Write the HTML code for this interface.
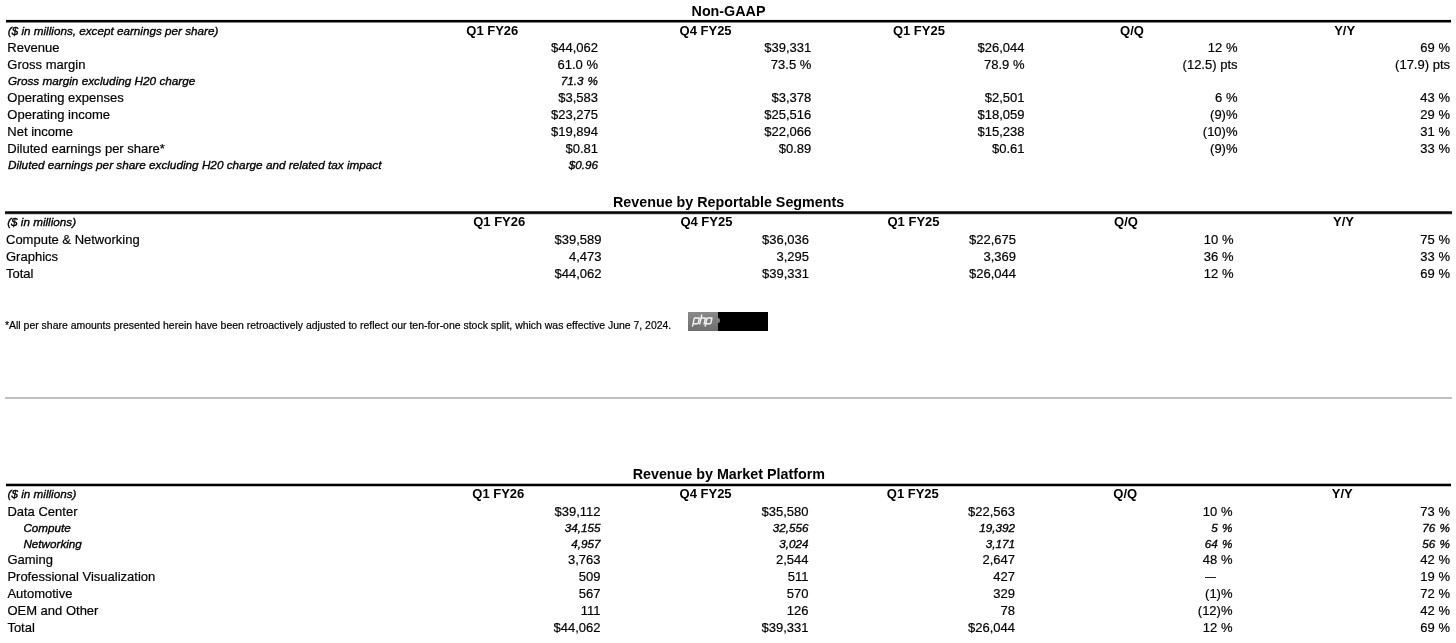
<!DOCTYPE html>
<html><head><meta charset="utf-8"><title>NVIDIA Non-GAAP</title><style>
html,body{margin:0;padding:0;background:#fff;}
body{width:1456px;height:643px;position:relative;overflow:hidden;font-family:"Liberation Sans",sans-serif;color:#000;}
#pg{position:absolute;left:0;top:0;width:1456px;height:643px;will-change:transform;}
.t{position:absolute;line-height:20px;white-space:nowrap;-webkit-text-stroke:0.2px #000;}
.rule{position:absolute;height:1px;}
.sep{position:absolute;left:5px;top:397px;width:1447px;height:2px;background:#c0c0c0;}
.php{position:absolute;left:688px;top:312px;height:19px;width:80px;}
.phpg{position:absolute;left:0;top:0;width:30px;height:19px;background:linear-gradient(#8a8a8a,#6e6e6e);}
.phpg svg{position:absolute;left:0;top:0;}
.dash{position:absolute;left:1205px;top:577px;width:11px;height:1px;background:#222;}
.t b,.bold{-webkit-text-stroke:0;}
.phpb{position:absolute;left:30px;top:0;width:50px;height:18.6px;background:#000;}
.phpd{position:absolute;left:28.2px;top:6.4px;width:3.4px;height:4.6px;border-radius:50%;background:#828282;}
</style></head>
<body>
<div id="pg">
<div class="t" style="top:1px;font-size:14.3px;font-weight:bold;-webkit-text-stroke:0;left:528.5px;width:400px;text-align:center;">Non-GAAP</div>
<div class="rule" style="top:19px;left:6px;width:1445px;background:#e8e8e8;box-shadow:0 1px 0 #000,0 2px 0 #000,0 3px 0 #808080"></div>
<div class="t" style="top:21px;font-size:11.7px;font-style:italic;-webkit-text-stroke:0.35px #000;left:7.8px;">($ in millions, except earnings per share)</div>
<div class="t" style="top:21px;font-size:13px;font-weight:bold;-webkit-text-stroke:0;left:292.3px;width:400px;text-align:center;">Q1 FY26</div>
<div class="t" style="top:21px;font-size:13px;font-weight:bold;-webkit-text-stroke:0;left:505.6px;width:400px;text-align:center;">Q4 FY25</div>
<div class="t" style="top:21px;font-size:13px;font-weight:bold;-webkit-text-stroke:0;left:718.9px;width:400px;text-align:center;">Q1 FY25</div>
<div class="t" style="top:21px;font-size:13px;font-weight:bold;-webkit-text-stroke:0;left:932px;width:400px;text-align:center;">Q/Q</div>
<div class="t" style="top:21px;font-size:13px;font-weight:bold;-webkit-text-stroke:0;left:1144.7px;width:400px;text-align:center;">Y/Y</div>
<div class="t" style="top:38px;font-size:13px;left:7.35px;">Revenue</div>
<div class="t" style="top:38px;font-size:13px;right:858px;text-align:right;">$44,062</div>
<div class="t" style="top:38px;font-size:13px;right:644.7px;text-align:right;">$39,331</div>
<div class="t" style="top:38px;font-size:13px;right:431.5px;text-align:right;">$26,044</div>
<div class="t" style="top:38px;font-size:13px;right:218.5px;text-align:right;">12 %</div>
<div class="t" style="top:38px;font-size:13px;right:6px;text-align:right;">69 %</div>
<div class="t" style="top:55px;font-size:13px;left:7.35px;">Gross margin</div>
<div class="t" style="top:55px;font-size:13px;right:858px;text-align:right;">61.0 %</div>
<div class="t" style="top:55px;font-size:13px;right:644.7px;text-align:right;">73.5 %</div>
<div class="t" style="top:55px;font-size:13px;right:431.5px;text-align:right;">78.9 %</div>
<div class="t" style="top:55px;font-size:13px;right:218.5px;text-align:right;">(12.5) pts</div>
<div class="t" style="top:55px;font-size:13px;right:6px;text-align:right;">(17.9) pts</div>
<div class="t" style="top:71px;font-size:11.76px;font-style:italic;-webkit-text-stroke:0.35px #000;left:7.9px;">Gross margin excluding H20 charge</div>
<div class="t" style="top:71px;font-size:11.7px;font-style:italic;-webkit-text-stroke:0.35px #000;right:858px;text-align:right;word-spacing:0.8px;">71.3 %</div>
<div class="t" style="top:88px;font-size:13px;left:7.35px;">Operating expenses</div>
<div class="t" style="top:88px;font-size:13px;right:858px;text-align:right;">$3,583</div>
<div class="t" style="top:88px;font-size:13px;right:644.7px;text-align:right;">$3,378</div>
<div class="t" style="top:88px;font-size:13px;right:431.5px;text-align:right;">$2,501</div>
<div class="t" style="top:88px;font-size:13px;right:218.5px;text-align:right;">6 %</div>
<div class="t" style="top:88px;font-size:13px;right:6px;text-align:right;">43 %</div>
<div class="t" style="top:105px;font-size:13px;left:7.35px;">Operating income</div>
<div class="t" style="top:105px;font-size:13px;right:858px;text-align:right;">$23,275</div>
<div class="t" style="top:105px;font-size:13px;right:644.7px;text-align:right;">$25,516</div>
<div class="t" style="top:105px;font-size:13px;right:431.5px;text-align:right;">$18,059</div>
<div class="t" style="top:105px;font-size:13px;right:218.5px;text-align:right;">(9)%</div>
<div class="t" style="top:105px;font-size:13px;right:6px;text-align:right;">29 %</div>
<div class="t" style="top:122px;font-size:13px;left:7.35px;">Net income</div>
<div class="t" style="top:122px;font-size:13px;right:858px;text-align:right;">$19,894</div>
<div class="t" style="top:122px;font-size:13px;right:644.7px;text-align:right;">$22,066</div>
<div class="t" style="top:122px;font-size:13px;right:431.5px;text-align:right;">$15,238</div>
<div class="t" style="top:122px;font-size:13px;right:218.5px;text-align:right;">(10)%</div>
<div class="t" style="top:122px;font-size:13px;right:6px;text-align:right;">31 %</div>
<div class="t" style="top:139px;font-size:13px;left:7.35px;">Diluted earnings per share*</div>
<div class="t" style="top:139px;font-size:13px;right:858px;text-align:right;">$0.81</div>
<div class="t" style="top:139px;font-size:13px;right:644.7px;text-align:right;">$0.89</div>
<div class="t" style="top:139px;font-size:13px;right:431.5px;text-align:right;">$0.61</div>
<div class="t" style="top:139px;font-size:13px;right:218.5px;text-align:right;">(9)%</div>
<div class="t" style="top:139px;font-size:13px;right:6px;text-align:right;">33 %</div>
<div class="t" style="top:155px;font-size:11.76px;font-style:italic;-webkit-text-stroke:0.35px #000;left:7.9px;">Diluted earnings per share excluding H20 charge and related tax impact</div>
<div class="t" style="top:155px;font-size:11.7px;font-style:italic;-webkit-text-stroke:0.35px #000;right:858px;text-align:right;word-spacing:0.8px;">$0.96</div>
<div class="t" style="top:192px;font-size:14.3px;font-weight:bold;-webkit-text-stroke:0;left:528.6px;width:400px;text-align:center;">Revenue by Reportable Segments</div>
<div class="rule" style="top:211px;left:5px;width:1447px;background:#4a4a4a;box-shadow:0 1px 0 #000,0 2px 0 #262626,0 3px 0 #cfcfcf"></div>
<div class="t" style="top:212px;font-size:11.7px;font-style:italic;-webkit-text-stroke:0.35px #000;left:7.2px;">($ in millions)</div>
<div class="t" style="top:212px;font-size:13px;font-weight:bold;-webkit-text-stroke:0;left:299.2px;width:400px;text-align:center;">Q1 FY26</div>
<div class="t" style="top:212px;font-size:13px;font-weight:bold;-webkit-text-stroke:0;left:506.4px;width:400px;text-align:center;">Q4 FY25</div>
<div class="t" style="top:212px;font-size:13px;font-weight:bold;-webkit-text-stroke:0;left:713.5px;width:400px;text-align:center;">Q1 FY25</div>
<div class="t" style="top:212px;font-size:13px;font-weight:bold;-webkit-text-stroke:0;left:926px;width:400px;text-align:center;">Q/Q</div>
<div class="t" style="top:212px;font-size:13px;font-weight:bold;-webkit-text-stroke:0;left:1143.5px;width:400px;text-align:center;">Y/Y</div>
<div class="t" style="top:230px;font-size:13px;left:6.0px;">Compute &amp; Networking</div>
<div class="t" style="top:230px;font-size:13px;right:854.5px;text-align:right;">$39,589</div>
<div class="t" style="top:230px;font-size:13px;right:647px;text-align:right;">$36,036</div>
<div class="t" style="top:230px;font-size:13px;right:440px;text-align:right;">$22,675</div>
<div class="t" style="top:230px;font-size:13px;right:222.5px;text-align:right;">10 %</div>
<div class="t" style="top:230px;font-size:13px;right:6px;text-align:right;">75 %</div>
<div class="t" style="top:247px;font-size:13px;left:6.0px;">Graphics</div>
<div class="t" style="top:247px;font-size:13px;right:854.5px;text-align:right;">4,473</div>
<div class="t" style="top:247px;font-size:13px;right:647px;text-align:right;">3,295</div>
<div class="t" style="top:247px;font-size:13px;right:440px;text-align:right;">3,369</div>
<div class="t" style="top:247px;font-size:13px;right:222.5px;text-align:right;">36 %</div>
<div class="t" style="top:247px;font-size:13px;right:6px;text-align:right;">33 %</div>
<div class="t" style="top:264px;font-size:13px;left:6.0px;">Total</div>
<div class="t" style="top:264px;font-size:13px;right:854.5px;text-align:right;">$44,062</div>
<div class="t" style="top:264px;font-size:13px;right:647px;text-align:right;">$39,331</div>
<div class="t" style="top:264px;font-size:13px;right:440px;text-align:right;">$26,044</div>
<div class="t" style="top:264px;font-size:13px;right:222.5px;text-align:right;">12 %</div>
<div class="t" style="top:264px;font-size:13px;right:6px;text-align:right;">69 %</div>
<div class="t" style="top:316px;font-size:10.46px;left:5.0px;">*All per share amounts presented herein have been retroactively adjusted to reflect our ten-for-one stock split, which was effective June 7, 2024.</div>
<div class="php"><div class="phpg"><svg width="30" height="19" viewBox="0 0 30 19"><g fill="none" stroke="#f4f4f4" stroke-width="1.45" stroke-linejoin="round" stroke-linecap="round" transform="skewX(-12) translate(2.3 0)"><path d="M5.3 14.1 L5.3 6.5 Q5.3 5.9 5.9 5.9 L9.6 5.9 Q10.3 5.9 10.3 6.6 L10.3 11.1 Q10.3 11.8 9.6 11.8 L5.5 11.8"/><path d="M12.0 11.9 L12.0 2.9 M12.0 6.8 Q12.6 5.9 13.6 5.9 L15.7 5.9 Q16.4 5.9 16.4 6.6 L16.4 11.9"/><path d="M18.0 14.1 L18.0 6.5 Q18.0 5.9 18.6 5.9 L22.3 5.9 Q23.0 5.9 23.0 6.6 L23.0 11.1 Q23.0 11.8 22.3 11.8 L18.2 11.8"/></g></svg></div><div class="phpb"></div><div class="phpd"></div></div>
<div class="sep"></div>
<div class="t" style="top:464px;font-size:14.3px;font-weight:bold;-webkit-text-stroke:0;left:528.8px;width:400px;text-align:center;">Revenue by Market Platform</div>
<div class="rule" style="top:483px;left:6px;width:1445px;background:#b0b0b0;box-shadow:0 1px 0 #000,0 2px 0 #000,0 3px 0 #c0c0c0"></div>
<div class="t" style="top:484px;font-size:11.7px;font-style:italic;-webkit-text-stroke:0.35px #000;left:7.6px;">($ in millions)</div>
<div class="t" style="top:484px;font-size:13px;font-weight:bold;-webkit-text-stroke:0;left:298.3px;width:400px;text-align:center;">Q1 FY26</div>
<div class="t" style="top:484px;font-size:13px;font-weight:bold;-webkit-text-stroke:0;left:505.6px;width:400px;text-align:center;">Q4 FY25</div>
<div class="t" style="top:484px;font-size:13px;font-weight:bold;-webkit-text-stroke:0;left:712.8px;width:400px;text-align:center;">Q1 FY25</div>
<div class="t" style="top:484px;font-size:13px;font-weight:bold;-webkit-text-stroke:0;left:925.2px;width:400px;text-align:center;">Q/Q</div>
<div class="t" style="top:484px;font-size:13px;font-weight:bold;-webkit-text-stroke:0;left:1142.3px;width:400px;text-align:center;">Y/Y</div>
<div class="t" style="top:502px;font-size:13px;left:7.4px;">Data Center</div>
<div class="t" style="top:502px;font-size:13px;right:855.5px;text-align:right;">$39,112</div>
<div class="t" style="top:502px;font-size:13px;right:647.5px;text-align:right;">$35,580</div>
<div class="t" style="top:502px;font-size:13px;right:441px;text-align:right;">$22,563</div>
<div class="t" style="top:502px;font-size:13px;right:223.5px;text-align:right;">10 %</div>
<div class="t" style="top:502px;font-size:13px;right:6px;text-align:right;">73 %</div>
<div class="t" style="top:518px;font-size:11.7px;font-style:italic;-webkit-text-stroke:0.35px #000;left:23.4px;">Compute</div>
<div class="t" style="top:518px;font-size:11.7px;font-style:italic;-webkit-text-stroke:0.35px #000;right:855.5px;text-align:right;">34,155</div>
<div class="t" style="top:518px;font-size:11.7px;font-style:italic;-webkit-text-stroke:0.35px #000;right:647.5px;text-align:right;">32,556</div>
<div class="t" style="top:518px;font-size:11.7px;font-style:italic;-webkit-text-stroke:0.35px #000;right:441px;text-align:right;">19,392</div>
<div class="t" style="top:518px;font-size:11.7px;font-style:italic;-webkit-text-stroke:0.35px #000;right:223.5px;text-align:right;word-spacing:1px;">5 %</div>
<div class="t" style="top:518px;font-size:11.7px;font-style:italic;-webkit-text-stroke:0.35px #000;right:6px;text-align:right;word-spacing:1px;">76 %</div>
<div class="t" style="top:534px;font-size:11.7px;font-style:italic;-webkit-text-stroke:0.35px #000;left:23.4px;">Networking</div>
<div class="t" style="top:534px;font-size:11.7px;font-style:italic;-webkit-text-stroke:0.35px #000;right:855.5px;text-align:right;">4,957</div>
<div class="t" style="top:534px;font-size:11.7px;font-style:italic;-webkit-text-stroke:0.35px #000;right:647.5px;text-align:right;">3,024</div>
<div class="t" style="top:534px;font-size:11.7px;font-style:italic;-webkit-text-stroke:0.35px #000;right:441px;text-align:right;">3,171</div>
<div class="t" style="top:534px;font-size:11.7px;font-style:italic;-webkit-text-stroke:0.35px #000;right:223.5px;text-align:right;word-spacing:1px;">64 %</div>
<div class="t" style="top:534px;font-size:11.7px;font-style:italic;-webkit-text-stroke:0.35px #000;right:6px;text-align:right;word-spacing:1px;">56 %</div>
<div class="t" style="top:550px;font-size:13px;left:7.4px;">Gaming</div>
<div class="t" style="top:550px;font-size:13px;right:855.5px;text-align:right;">3,763</div>
<div class="t" style="top:550px;font-size:13px;right:647.5px;text-align:right;">2,544</div>
<div class="t" style="top:550px;font-size:13px;right:441px;text-align:right;">2,647</div>
<div class="t" style="top:550px;font-size:13px;right:223.5px;text-align:right;">48 %</div>
<div class="t" style="top:550px;font-size:13px;right:6px;text-align:right;">42 %</div>
<div class="t" style="top:567px;font-size:13px;left:7.4px;">Professional Visualization</div>
<div class="t" style="top:567px;font-size:13px;right:855.5px;text-align:right;">509</div>
<div class="t" style="top:567px;font-size:13px;right:647.5px;text-align:right;">511</div>
<div class="t" style="top:567px;font-size:13px;right:441px;text-align:right;">427</div>
<div class="dash"></div>
<div class="t" style="top:567px;font-size:13px;right:6px;text-align:right;">19 %</div>
<div class="t" style="top:584px;font-size:13px;left:7.4px;">Automotive</div>
<div class="t" style="top:584px;font-size:13px;right:855.5px;text-align:right;">567</div>
<div class="t" style="top:584px;font-size:13px;right:647.5px;text-align:right;">570</div>
<div class="t" style="top:584px;font-size:13px;right:441px;text-align:right;">329</div>
<div class="t" style="top:584px;font-size:13px;right:223.5px;text-align:right;">(1)%</div>
<div class="t" style="top:584px;font-size:13px;right:6px;text-align:right;">72 %</div>
<div class="t" style="top:601px;font-size:13px;left:7.4px;">OEM and Other</div>
<div class="t" style="top:601px;font-size:13px;right:855.5px;text-align:right;">111</div>
<div class="t" style="top:601px;font-size:13px;right:647.5px;text-align:right;">126</div>
<div class="t" style="top:601px;font-size:13px;right:441px;text-align:right;">78</div>
<div class="t" style="top:601px;font-size:13px;right:223.5px;text-align:right;">(12)%</div>
<div class="t" style="top:601px;font-size:13px;right:6px;text-align:right;">42 %</div>
<div class="t" style="top:618px;font-size:13px;left:7.4px;">Total</div>
<div class="t" style="top:618px;font-size:13px;right:855.5px;text-align:right;">$44,062</div>
<div class="t" style="top:618px;font-size:13px;right:647.5px;text-align:right;">$39,331</div>
<div class="t" style="top:618px;font-size:13px;right:441px;text-align:right;">$26,044</div>
<div class="t" style="top:618px;font-size:13px;right:223.5px;text-align:right;">12 %</div>
<div class="t" style="top:618px;font-size:13px;right:6px;text-align:right;">69 %</div>
</div>
</body></html>
